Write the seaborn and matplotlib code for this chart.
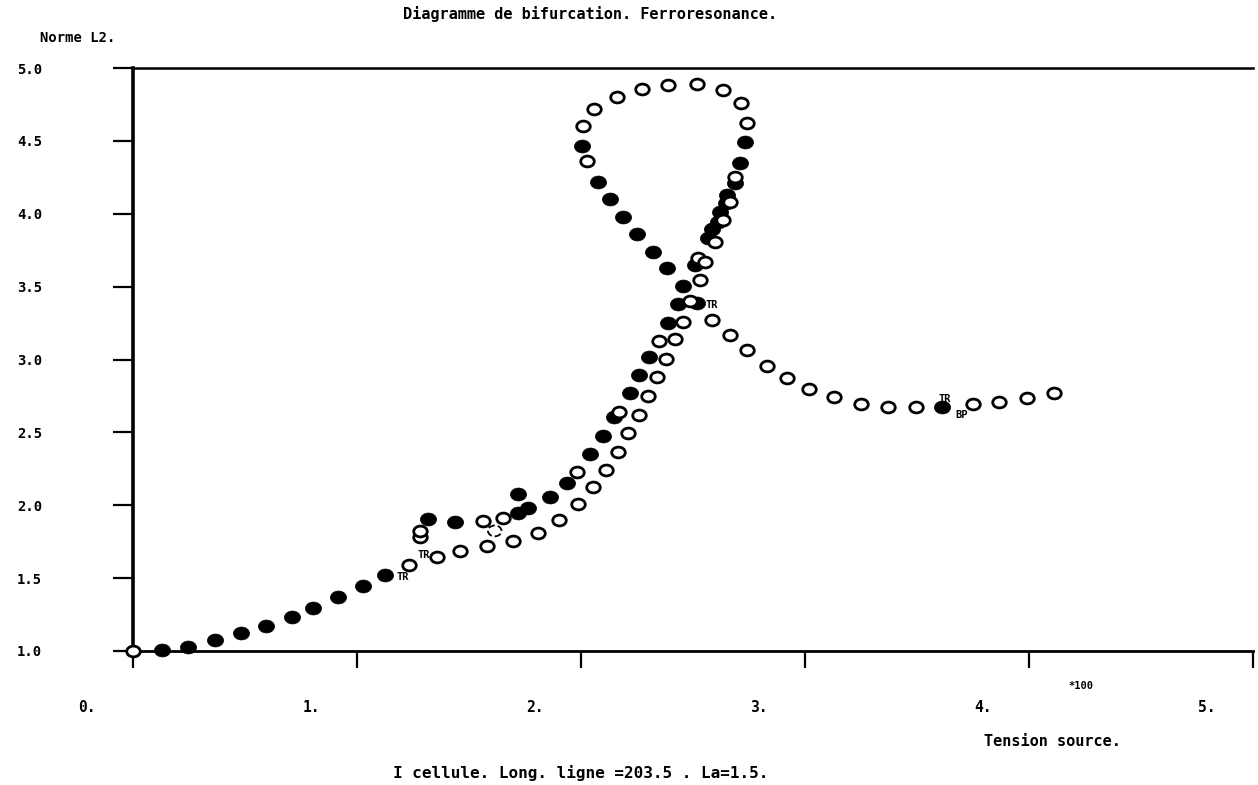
import numpy as np
import pandas as pd
import matplotlib
matplotlib.use("Agg")
import matplotlib.pyplot as plt
import matplotlib.transforms as mtransforms
from matplotlib.path import Path
import seaborn as sns

# ---------------- data ----------------
stable_x = [0.129, 0.245, 0.366, 0.482, 0.593, 0.710, 0.804, 0.915, 1.026, 1.124,
            1.316, 1.437, 1.718, 1.763, 1.718, 1.861, 1.937, 2.039, 2.097, 2.146,
            2.218, 2.258, 2.303, 2.387, 2.432, 2.517, 2.454, 2.508, 2.566, 2.584,
            2.610, 2.619, 2.646, 2.651, 2.686, 2.709, 2.731,
            2.004, 2.075, 2.129, 2.187, 2.249, 2.320, 2.383, 3.610]
stable_y = [1.007, 1.027, 1.076, 1.124, 1.172, 1.234, 1.295, 1.371, 1.446, 1.522,
            1.907, 1.886, 1.948, 1.982, 2.078, 2.058, 2.154, 2.353, 2.477, 2.607,
            2.772, 2.896, 3.019, 3.253, 3.383, 3.390, 3.507, 3.651, 3.837, 3.892,
            3.946, 4.015, 4.077, 4.132, 4.214, 4.345, 4.489,
            4.462, 4.221, 4.104, 3.981, 3.864, 3.740, 3.630, 2.676]

unstable_x = [0.000, 1.232, 1.281, 1.281, 1.357, 1.459, 1.580, 1.696, 1.807, 1.901,
              1.986, 2.053, 2.111, 2.164, 2.209, 2.258, 2.298, 2.338, 2.379, 2.419,
              2.454, 2.486, 1.562, 1.651, 1.981, 2.169, 2.347, 2.530, 2.521, 2.552,
              2.597, 2.633, 2.664, 2.686, 2.740, 2.713, 2.633, 2.517, 2.387, 2.271,
              2.160, 2.057, 2.008, 2.026, 2.584, 2.664, 2.740, 2.829, 2.918, 3.017,
              3.128, 3.249, 3.369, 3.494, 3.748, 3.864, 3.989, 4.110]
unstable_y = [1.000, 1.591, 1.783, 1.824, 1.646, 1.687, 1.721, 1.755, 1.810, 1.900,
              2.010, 2.126, 2.243, 2.367, 2.497, 2.621, 2.751, 2.882, 3.005, 3.143,
              3.260, 3.404, 1.893, 1.913, 2.229, 2.641, 3.129, 3.548, 3.699, 3.672,
              3.809, 3.960, 4.084, 4.255, 4.626, 4.757, 4.846, 4.887, 4.880, 4.853,
              4.798, 4.716, 4.599, 4.359, 3.273, 3.170, 3.067, 2.957, 2.875, 2.799,
              2.745, 2.696, 2.676, 2.676, 2.696, 2.710, 2.738, 2.772]

partial_x = [1.615]
partial_y = [1.824]

point_labels = ["TR", "TR", "TR", "TR", "BP"]
label_x = [1.205, 1.299, 2.584, 3.623, 3.699]
label_y = [1.508, 1.659, 3.376, 2.731, 2.621]

x_ticks = [0, 1, 2, 3, 4, 5]
x_tick_labels = ["0.", "1.", "2.", "3.", "4.", "5."]
y_ticks = [1.0, 1.5, 2.0, 2.5, 3.0, 3.5, 4.0, 4.5, 5.0]
y_tick_labels = ["1.0", "1.5", "2.0", "2.5", "3.0", "3.5", "4.0", "4.5", "5.0"]

title = "Diagramme de bifurcation. Ferroresonance."
y_title = "Norme L2."
x_title = "Tension source."
x_scale = "*100"
footer = "I cellule. Long. ligne =203.5 . La=1.5."

# ---------------- style ----------------
sns.set_style("white")
plt.rcParams['font.family'] = ['DejaVu Sans Mono', 'DejaVu Sans']
plt.rcParams['font.weight'] = 'bold'
plt.rcParams['text.color'] = 'black'
plt.rcParams['axes.labelcolor'] = 'black'
plt.rcParams['xtick.color'] = 'black'
plt.rcParams['ytick.color'] = 'black'

stable = pd.DataFrame({"x": stable_x, "y": stable_y})
unstable = pd.DataFrame({"x": unstable_x, "y": unstable_y})
partial = pd.DataFrame({"x": partial_x, "y": partial_y})

circ = Path.unit_circle()
ell = Path(circ.vertices * np.array([1.0, 0.8]), circ.codes)

fig = plt.figure(figsize=(12.58, 7.85), dpi=100)
ax = fig.add_axes([133 / 1258, 1 - 651 / 785, 1120 / 1258, 583 / 785])

sns.scatterplot(data=stable, x="x", y="y", ax=ax, marker=ell, s=135,
                color="black", edgecolor="black", linewidth=0.5, clip_on=False,
                zorder=3)
sns.scatterplot(data=unstable, x="x", y="y", ax=ax, marker=ell, s=95,
                facecolor="white", edgecolor="black", linewidth=2.0,
                clip_on=False, zorder=4)
sns.scatterplot(data=partial, x="x", y="y", ax=ax, marker=ell, s=95,
                facecolor="none", edgecolor="black", linewidth=1.3,
                linestyle="--", clip_on=False, zorder=4)

for t, lx, ly in zip(point_labels, label_x, label_y):
    ax.text(lx, ly, t, fontsize=7.5, fontweight='bold', ha='center',
            va='center', zorder=5, color='black')

ax.set_xlim(0, 5)
ax.set_ylim(1, 5)
ax.set_xlabel("")
ax.set_ylabel("")

ax.spines["right"].set_visible(False)
ax.spines["left"].set_linewidth(2.6)
ax.spines["bottom"].set_linewidth(2.0)
ax.spines["top"].set_linewidth(1.8)
for s in ax.spines.values():
    s.set_color("black")

ax.set_xticks(x_ticks, labels=x_tick_labels)
ax.set_yticks(y_ticks, labels=y_tick_labels)
ax.tick_params(axis='y', direction='out', length=14.4, width=1.6, pad=51,
               labelsize=10, left=True, colors='black')
ax.tick_params(axis='x', direction='out', length=12, width=1.6, pad=23,
               labelsize=10.5, bottom=True, colors='black')
off = mtransforms.ScaledTranslation(-46 / 100, 0, fig.dpi_scale_trans)
for lab in ax.get_xticklabels():
    lab.set_transform(lab.get_transform() + off)
    lab.set_fontweight('bold')
for lab in ax.get_yticklabels():
    lab.set_fontweight('bold')

W, H = 1258, 785
fig.text(590 / W, 1 - 14 / H, title, ha='center', va='center', fontsize=11,
         fontweight='bold', color='black')
fig.text(40 / W, 1 - 38 / H, y_title, ha='left', va='center', fontsize=10,
         fontweight='bold', color='black')
fig.text(1081 / W, 1 - 686 / H, x_scale, ha='center', va='center', fontsize=7.5,
         fontweight='bold', color='black')
fig.text(1052 / W, 1 - 741 / H, x_title, ha='center', va='center', fontsize=11,
         fontweight='bold', color='black')
fig.text(581 / W, 1 - 773 / H, footer, ha='center', va='center', fontsize=11.5,
         fontweight='bold', color='black')

fig.savefig("out.png", dpi=100, facecolor="white")
